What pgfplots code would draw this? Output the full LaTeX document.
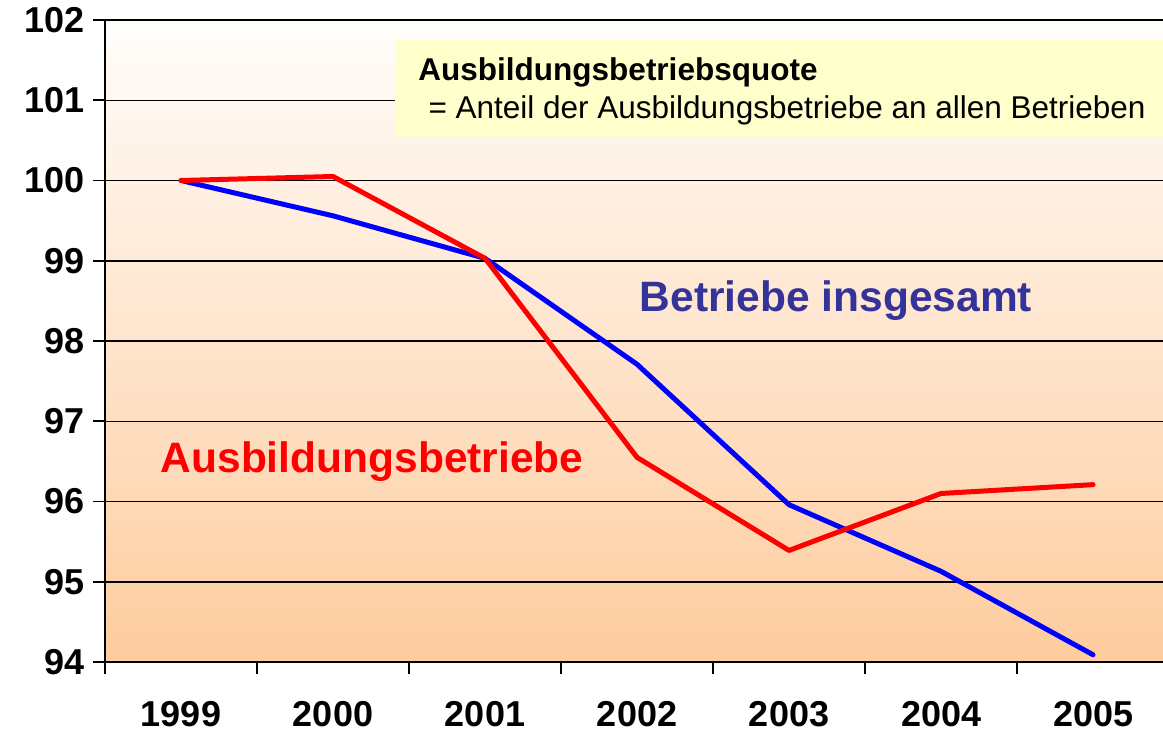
\documentclass[border=0pt]{standalone}
\usepackage{pgfplots}
\pgfplotsset{compat=1.18}
\usepackage{fontspec}
\setmainfont{Liberation Sans}
\definecolor{bgtop}{RGB}{255,253,251}
\definecolor{bgbot}{RGB}{254,204,158}
\definecolor{boxy}{RGB}{255,255,204}
\definecolor{lblue}{RGB}{51,51,153}
\begin{document}
\begin{tikzpicture}
\useasboundingbox (0,0) rectangle (1163pt,732pt);
\begin{axis}[
  at={(105pt,70pt)}, anchor=south west,
  scale only axis, width=1058pt, height=642pt,
  xmin=-0.5, xmax=6.46, ymin=94, ymax=102,
  ytick={94,95,...,102},
  xtick={-0.5,0.5,...,5.5}, xticklabels={},
  extra x ticks={0,1,2,3,4,5,6},
  extra x tick labels={1999,2000,2001,2002,2003,2004,2005},
  extra x tick style={major tick length=0pt, grid=none, xticklabel style={yshift=-36pt}},
  axis x line=bottom, axis y line=left,
  axis line style={-, line width=1.6pt, black},
  tick align=outside, major tick length=12pt,
  tick style={line width=1.6pt, black},
  ymajorgrids, grid style={line width=1.5pt, black},
  axis background/.style={top color=bgtop, bottom color=bgbot},
  ticklabel style={font=\fontsize{36}{36}\selectfont\bfseries},
  yticklabel style={xshift=-5pt},
  /pgf/number format/assume math mode=true,
  clip=false,
]
\fill[boxy] (axis cs:1.408,100.54) rectangle (axis cs:6.46,101.75);
\node[anchor=west, font=\fontsize{31.5}{31.5}\selectfont\bfseries] at (axis cs:1.539,101.35) {Ausbildungsbetriebsquote};
\node[anchor=west, font=\fontsize{31.5}{31.5}\selectfont] at (axis cs:1.605,100.88) {= Anteil der Ausbildungsbetriebe an allen Betrieben};
\addplot[color={rgb,255:red,0;green,0;blue,255}, line width=5pt, line join=round, line cap=round] coordinates {
(0,100) (1,99.56) (2,99.03) (3,97.71) (4,95.96) (5,95.13) (6,94.09)};
\addplot[color={rgb,255:red,255;green,0;blue,0}, line width=5pt, line join=round, line cap=round] coordinates {
(0,100) (1,100.05) (2,99.03) (3,96.55) (4,95.39) (5,96.10) (6,96.21)};
\node[text=lblue, font=\fontsize{42.5}{42.5}\selectfont\bfseries] at (axis cs:4.309,98.50) {Betriebe insgesamt};
\node[text=red, font=\fontsize{42.5}{42.5}\selectfont\bfseries] at (axis cs:1.257,96.50) {Ausbildungsbetriebe};
\end{axis}
\end{tikzpicture}
\end{document}
